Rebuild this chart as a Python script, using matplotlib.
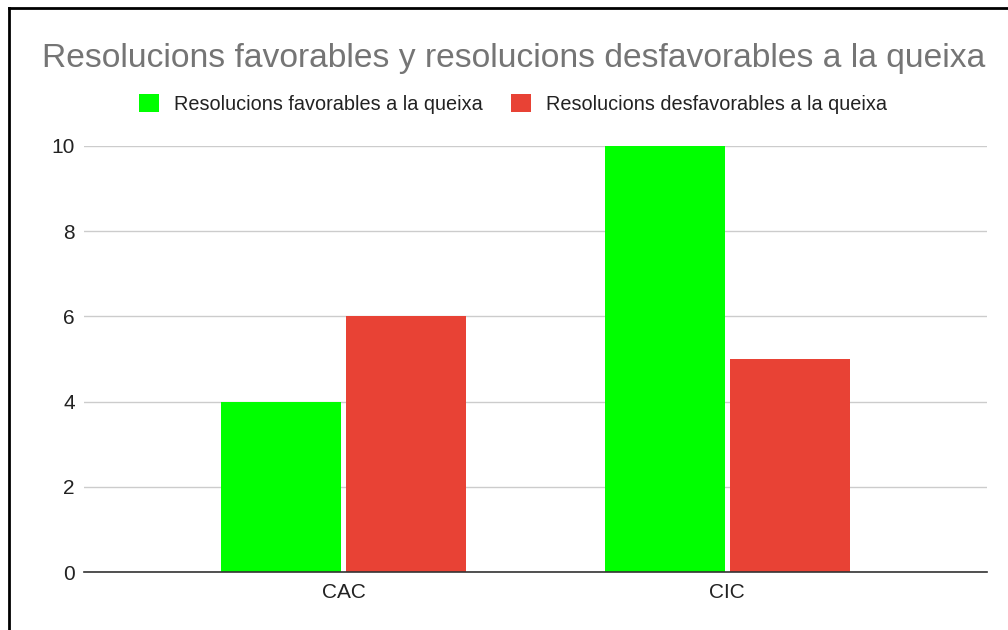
import matplotlib.pyplot as plt
import numpy as np
from matplotlib.lines import Line2D

plt.rcParams['font.family'] = ['Liberation Sans', 'DejaVu Sans']

# Dades del gràfic
categories = ['CAC', 'CIC']
favorables = [4, 10]
desfavorables = [6, 5]
series_names = ['Resolucions favorables a la queixa', 'Resolucions desfavorables a la queixa']
colors = ['#00ff00', '#e84235']
title = 'Resolucions favorables y resolucions desfavorables a la queixa'

fig = plt.figure(figsize=(10.08, 6.3), dpi=100)
ax = fig.add_axes([84 / 1008, 1 - 572 / 630, 903 / 1008, 426 / 630])

x = np.arange(len(categories))
width = 0.313
ax.bar(x - 0.163, favorables, width, color=colors[0], label=series_names[0], zorder=3)
ax.bar(x + 0.163, desfavorables, width, color=colors[1], label=series_names[1], zorder=3)

ax.set_xlim(-0.677, 1.678)
ax.set_ylim(0, 10)
ax.set_yticks([0, 2, 4, 6, 8, 10])
ax.set_xticks(x)
ax.set_xticklabels(categories)
ax.tick_params(axis='both', length=0, labelsize=15, colors='#222222')
ax.tick_params(axis='y', pad=6.5)
ax.tick_params(axis='x', pad=8)
ax.grid(axis='y', color='#cccccc', linewidth=1, zorder=0)
for side in ['top', 'right', 'left']:
    ax.spines[side].set_visible(False)
ax.spines['bottom'].set_color('#333333')
ax.spines['bottom'].set_linewidth(1.2)
ax.spines['bottom'].set_zorder(4)

fig.text(0.5093, 1 - 59 / 630, title, ha='center', va='center', fontsize=24.2, color='#757575')

fig.legend(loc='center', bbox_to_anchor=(0.509, 1 - 104 / 630), ncol=2, frameon=False,
           fontsize=14.3, handlelength=1.0, handleheight=1.0, handletextpad=0.75,
           columnspacing=1.45, labelcolor='#222222')

# marc negre
fig.add_artist(Line2D([9 / 1008, 9 / 1008], [0, 1 - 8 / 630], color='black', linewidth=2))
fig.add_artist(Line2D([9 / 1008, 1], [1 - 8 / 630, 1 - 8 / 630], color='black', linewidth=2))

fig.savefig('out.png', dpi=100)
